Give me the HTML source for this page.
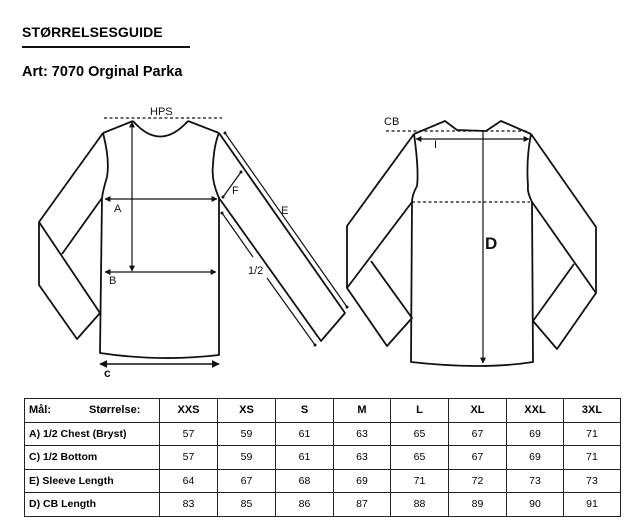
<!DOCTYPE html>
<html><head><meta charset="utf-8"><style>
html,body{margin:0;padding:0;background:#fff;}
body{width:638px;height:529px;position:relative;overflow:hidden;font-family:"Liberation Sans",sans-serif;}
.t1{position:absolute;left:22px;top:24px;font-size:14px;font-weight:bold;letter-spacing:0.1px;}
.ul{position:absolute;left:22px;top:46px;width:168px;height:2px;background:#111;}
.t2{position:absolute;left:22px;top:64px;font-size:14.5px;font-weight:bold;}
table{position:absolute;left:24px;top:398px;border-collapse:collapse;width:596px;font-size:10.5px;table-layout:fixed;}
td{border:1.5px solid #222;height:22.5px;padding:0;text-align:center;overflow:hidden;white-space:nowrap;}
td.l{text-align:left;padding-left:4px;font-weight:bold;}
tr.h td{font-weight:bold;font-size:11px;}
</style></head><body>
<div class="t1">STØRRELSESGUIDE</div>
<div class="ul"></div>
<div class="t2">Art: 7070 Orginal Parka</div>
<svg width="638" height="529" style="position:absolute;left:0;top:0" xmlns="http://www.w3.org/2000/svg">
<defs><marker id="a" viewBox="0 0 10 10" refX="9" refY="5" markerWidth="5" markerHeight="5" orient="auto-start-reverse"><path d="M0,0L10,5L0,10z" fill="#111"/></marker></defs>
<g fill="none" stroke="#111" stroke-width="1.8" stroke-linejoin="round">
<path d="M133,121 Q160,152 188,121"/>
<path d="M103,133 L133,121 M188,121 L219,133"/>
<path d="M103,133 Q110,160 107,177 Q103,190 102,198 L100,353 Q160,362 219,355 L219,198 Q211,180 213,165 Q214,145 219,133"/>
<path d="M103,133 L39,222 L39,285 L77,339 L100,313 M39,222 L100,313 M102,198 L62,254"/>
<path d="M219,133 L345,313 L321,341 L219,198"/>
<path d="M414,134 L445,121 L457,130 L486,131 L501,121 L531,134"/>
<path d="M414,134 Q419,170 417,186 Q412,195 412,202 L411,362 Q483,370 533,362 L532,202 Q527,192 528,186 Q526,160 531,134"/>
<path d="M414,134 L347,226 L347,288 L387,346 L412,318 L371,261 M412,202 L347,288"/>
<path d="M531,134 L596,227 L596,293 L557,349 L533,321 L574,264 M532,202 L596,293"/>
</g>
<g stroke="#111" stroke-width="1.2" fill="none">
<line x1="104" y1="118" x2="222" y2="118" stroke-dasharray="3,2.5"/>
<line x1="386" y1="131" x2="529" y2="131" stroke-dasharray="3,2.5"/>
<line x1="412" y1="202" x2="530" y2="202" stroke-dasharray="3,2.5"/>
<line x1="105" y1="199" x2="217" y2="199" marker-start="url(#a)" marker-end="url(#a)"/>
<line x1="105" y1="272" x2="216" y2="272" marker-start="url(#a)" marker-end="url(#a)"/>
<line x1="100" y1="364" x2="219" y2="364" stroke-width="1.6" marker-start="url(#a)" marker-end="url(#a)"/>
<line x1="132" y1="122" x2="132" y2="271" marker-start="url(#a)" marker-end="url(#a)"/>
<line x1="225" y1="133" x2="347" y2="307"/>
<line x1="223" y1="197" x2="241" y2="172"/>
<line x1="222" y1="213" x2="253" y2="257"/>
<line x1="267" y1="278" x2="315" y2="345"/>
<line x1="416" y1="139" x2="529" y2="139" marker-start="url(#a)" marker-end="url(#a)"/>
<line x1="483" y1="131" x2="483" y2="363" marker-end="url(#a)"/>
</g>
<g fill="#111">
<circle cx="225" cy="133" r="1.5"/><circle cx="347" cy="307" r="1.5"/>
<circle cx="223" cy="197" r="1.5"/><circle cx="241" cy="172" r="1.5"/>
<circle cx="222" cy="213" r="1.5"/><circle cx="315" cy="345" r="1.5"/>
</g>
<g font-family="Liberation Sans, sans-serif" fill="#111" font-size="11">
<text x="150" y="115">HPS</text>
<text x="114" y="212">A</text>
<text x="109" y="284">B</text>
<text x="104" y="377" font-weight="bold" font-size="12">c</text>
<text x="232" y="194">F</text>
<text x="281" y="214">E</text>
<text x="248" y="274">1/2</text>
<text x="384" y="125">CB</text>
<text x="434" y="148">I</text>
<text x="485" y="249" font-size="17" font-weight="bold">D</text>
</g>
</svg>
<table>
<colgroup><col style="width:135px"><col style="width:58px"><col style="width:58px"><col style="width:58px"><col style="width:57px"><col style="width:58px"><col style="width:58px"><col style="width:57px"><col style="width:57px"></colgroup>
<tr class="h"><td class="l">Mål:<span style="margin-left:38px">Størrelse:</span></td><td>XXS</td><td>XS</td><td>S</td><td>M</td><td>L</td><td>XL</td><td>XXL</td><td>3XL</td></tr>
<tr><td class="l">A) 1/2 Chest (Bryst)</td><td>57</td><td>59</td><td>61</td><td>63</td><td>65</td><td>67</td><td>69</td><td>71</td></tr>
<tr><td class="l">C) 1/2 Bottom</td><td>57</td><td>59</td><td>61</td><td>63</td><td>65</td><td>67</td><td>69</td><td>71</td></tr>
<tr><td class="l">E) Sleeve Length</td><td>64</td><td>67</td><td>68</td><td>69</td><td>71</td><td>72</td><td>73</td><td>73</td></tr>
<tr><td class="l">D) CB Length</td><td>83</td><td>85</td><td>86</td><td>87</td><td>88</td><td>89</td><td>90</td><td>91</td></tr>
</table>
</body></html>
